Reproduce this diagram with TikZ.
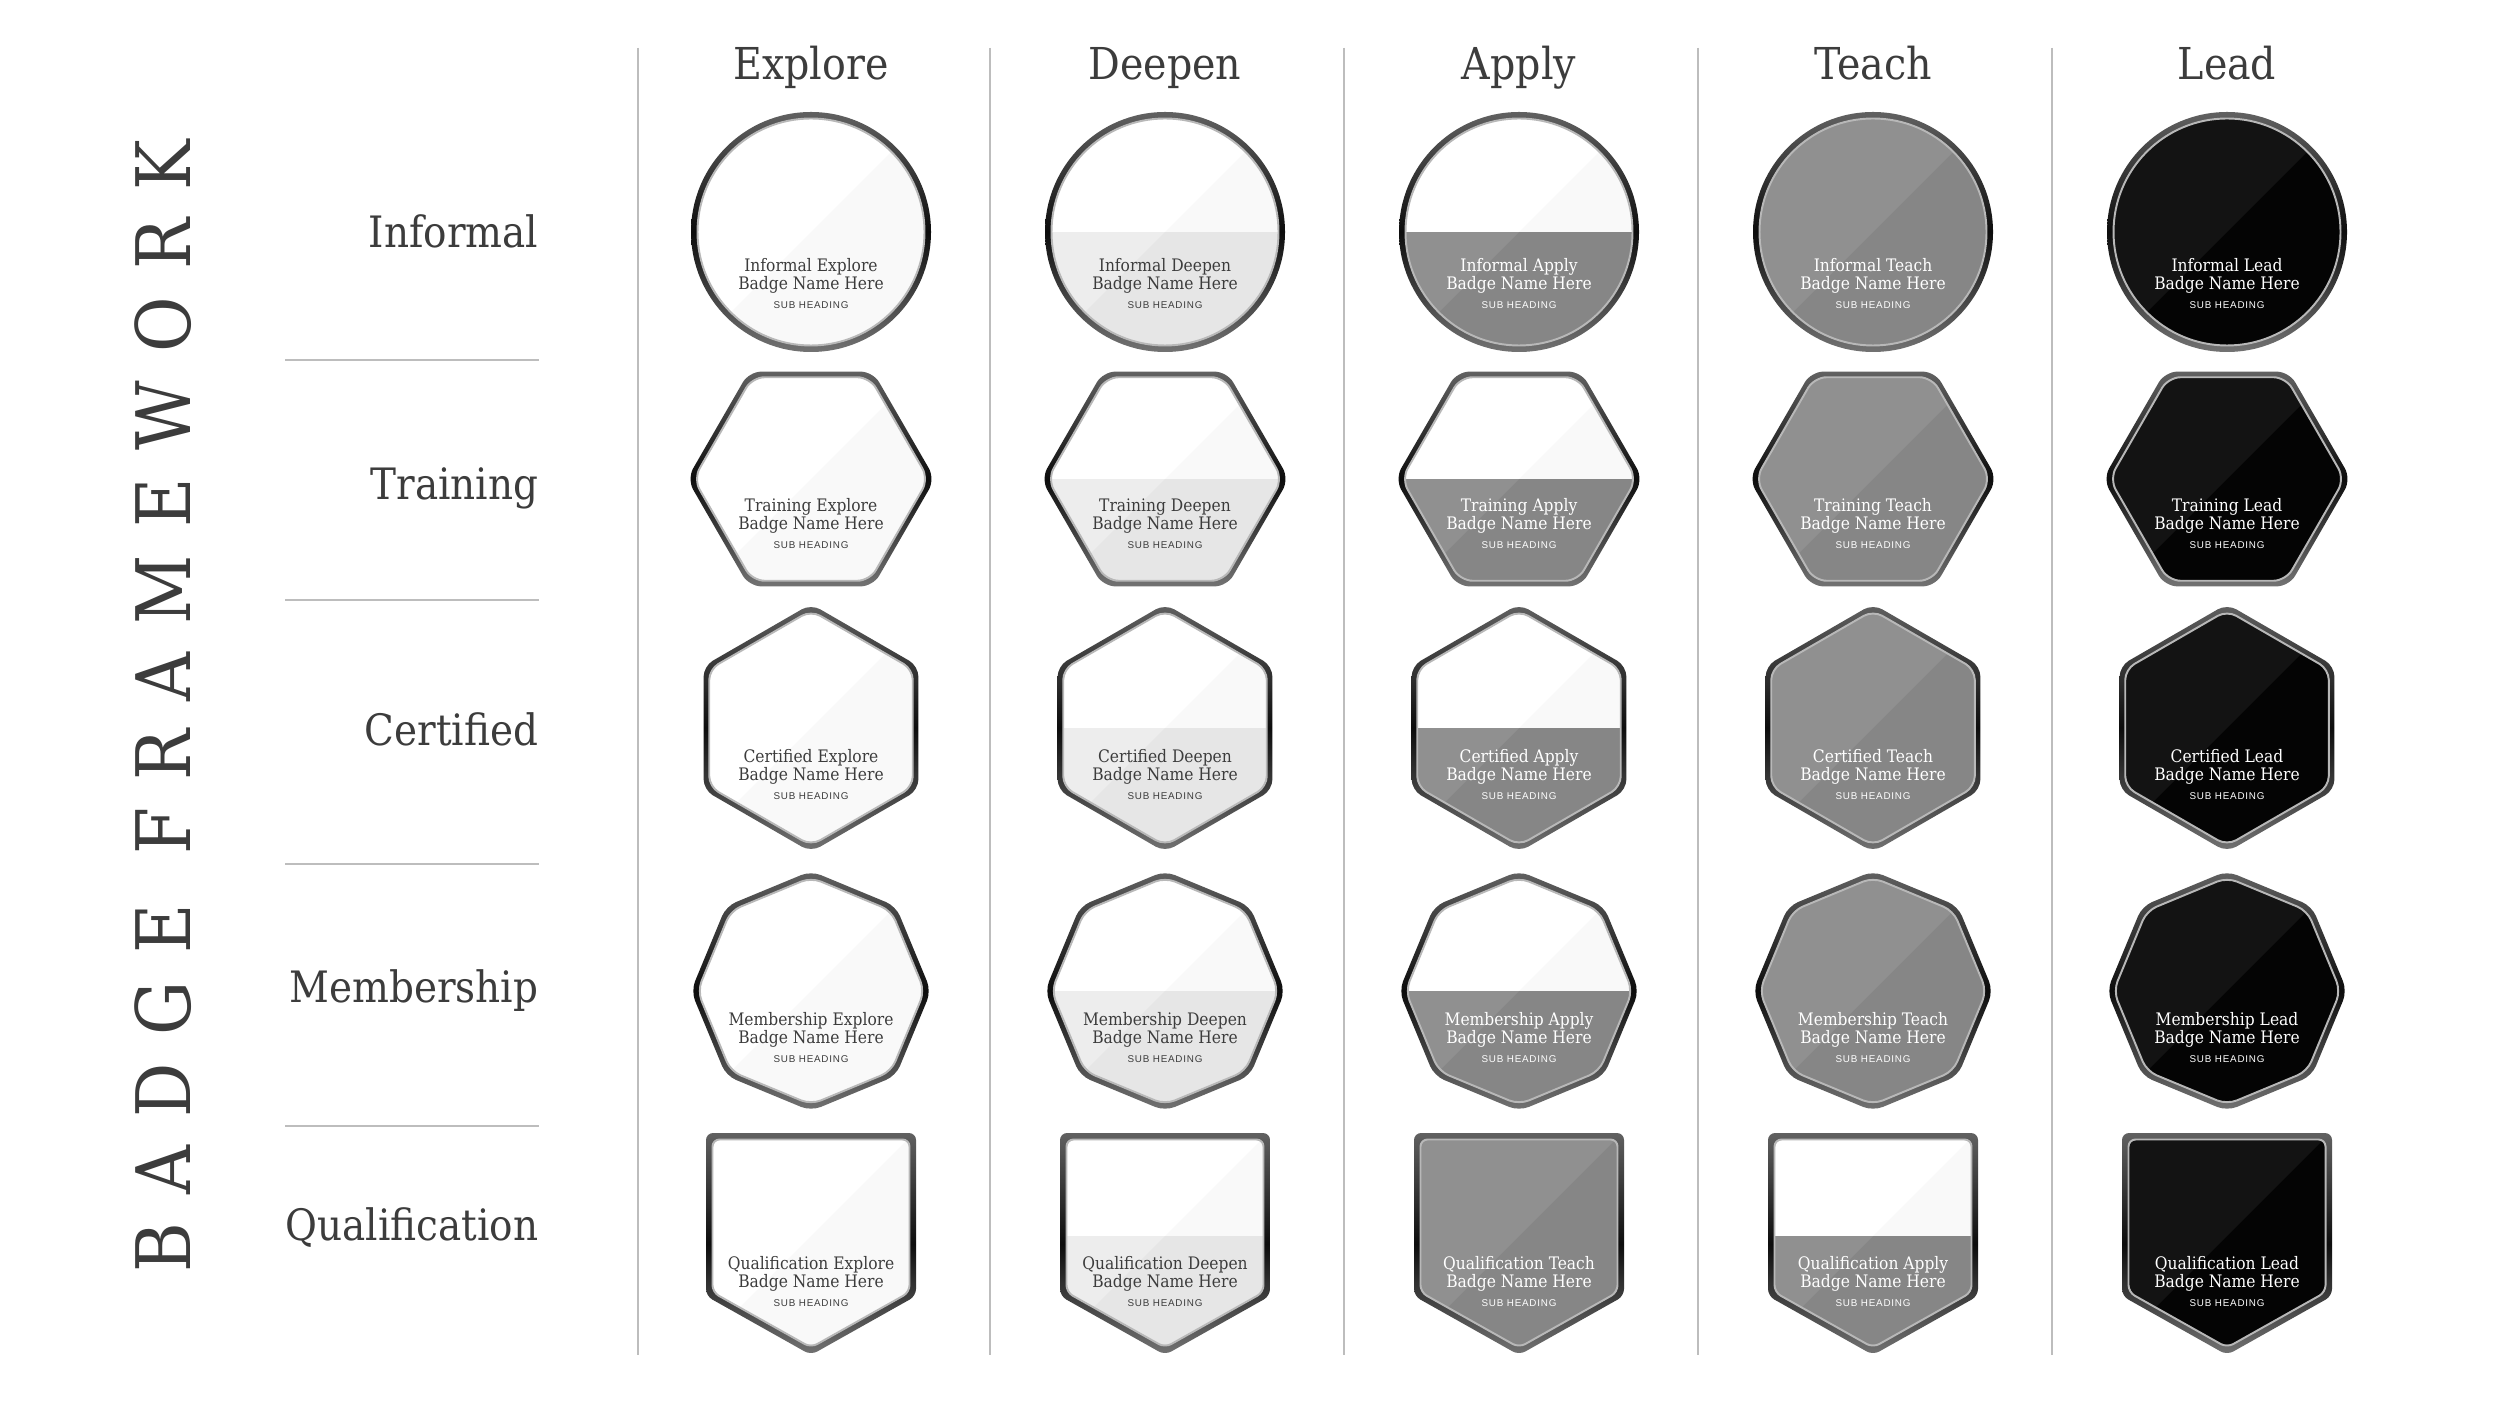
\documentclass[tikz,border=0pt]{standalone}
\usepackage{fontspec}
\setmainfont{DejaVu Serif Condensed}
\newfontfamily\subfont[LetterSpace=8]{Liberation Sans}
\newfontfamily\titlefont[LetterSpace=37]{DejaVu Serif Condensed}
\usepackage{tikz}
\usetikzlibrary{positioning}

\definecolor{inkdark}{HTML}{3C3C3C}
\definecolor{rulegray}{HTML}{BDBDBD}
\definecolor{palefill}{HTML}{ECECEC}
\definecolor{midfill}{HTML}{8A8A8A}
\definecolor{leadfill}{HTML}{050505}

\tikzset{
  roundbadge/.style={insert path={(0,0) circle[radius=120-#1]}},
  hexbadge/.style={insert path={[rounded corners=3.5pt] (0:124-#1) -- (60:124-#1) -- (120:124-#1) -- (180:124-#1) -- (240:124-#1) -- (300:124-#1) -- cycle}},
  pointhexbadge/.style={insert path={[rounded corners=3pt] (30:124-#1) -- (90:124-#1) -- (150:124-#1) -- (210:124-#1) -- (270:124-#1) -- (330:124-#1) -- cycle}},
  octbadge/.style={insert path={[rounded corners=3pt] (0:120-#1) -- (45:120-#1) -- (90:120-#1) -- (135:120-#1) -- (180:120-#1) -- (225:120-#1) -- (270:120-#1) -- (315:120-#1) -- cycle}},
  shieldbadge/.style={insert path={[rounded corners=2pt] (-105+#1,-103+#1) -- (105-#1,-103+#1) -- (105-#1,60-0.58*#1) -- (0,119-1.15*#1) -- (-105+#1,60-0.58*#1) -- cycle}},
  ringshade/.style={top color=black!62, bottom color=black!55, middle color=black!95, even odd rule},
  innerline/.style={draw=white!72!black, line width=0.55pt},
  badgetitle/.style={font=\fontsize{4.9}{5}\selectfont, anchor=base, inner sep=0pt},
  badgesub/.style={font=\subfont\fontsize{2.8}{3}\selectfont, anchor=base, inner sep=0pt},
  rowlabel/.style={font=\fontsize{12.3}{14}\selectfont, text=inkdark, anchor=base east, inner sep=0pt},
  colhead/.style={font=\fontsize{12.5}{14}\selectfont, text=inkdark, anchor=base, inner sep=0pt},
  titletext/.style={font=\titlefont\fontsize{21.4}{24}\selectfont, text=inkdark, rotate=90, anchor=base, inner sep=0pt},
  divider/.style={draw=rulegray, line width=0.55pt}
}

% one badge: x, y, shape, level, text offset, title, name
\newcommand{\badge}[7]{%
  \ifnum#4>1 \def\badgeink{white}\else\def\badgeink{inkdark}\fi
  \begin{scope}[shift={(#1,#2)}]
    \fill[white] (0,0) [#3=6];
    \begin{scope}
      \clip (0,0) [#3=6];
      \ifcase#4
      \or \fill[palefill] (-130,0) rectangle (130,130);
      \or \fill[midfill] (-130,0) rectangle (130,130);
      \or \fill[midfill] (-130,-130) rectangle (130,130);
      \or \fill[leadfill] (-130,-130) rectangle (130,130);
      \fi
      \fill[white, opacity=.06] (-130,130) -- (130,-130) -- (-130,-130) -- cycle;
      \fill[black, opacity=.025] (-130,130) -- (130,-130) -- (130,130) -- cycle;
    \end{scope}
    \path[ringshade] (0,0) [#3=0] (0,0) [#3=6];
    \draw[innerline] (0,0) [#3=6.5];
    \node[badgetitle, text=\badgeink] (#7-title) at (0,#5) {#6};
    \node[badgetitle, text=\badgeink] (#7-name) at (0,#5+18) {Badge Name Here};
    \node[badgesub, text=\badgeink] (#7-sub) at (0,#5+37) {SUB HEADING};
  \end{scope}}

\begin{document}
\begin{tikzpicture}[x=0.01cm, y=-0.01cm]
\fill[white] (0,0) rectangle (2500,1407);
\useasboundingbox (0,0) rectangle (2500,1407);

% title and row labels
\node[titletext] (frametitle) at (190,706) {BADGE FRAMEWORK};
\foreach \y/\rw in {248/Informal, 500/Training, 746/Certified, 1002/Membership, 1240/Qualification}
  \node[rowlabel] (\rw-label) at (539,\y) {\rw};
\foreach \y in {360,600,864,1126}
  \draw[divider] (285,\y) -- (539,\y);

% columns
\foreach \x/\cw in {811/Explore, 1165/Deepen, 1519/Apply, 1873/Teach, 2227/Lead}
  \node[colhead] (\cw-head) at (\x,80) {\cw};
\foreach \x in {638,990,1344,1698,2052}
  \draw[divider] (\x,48) -- (\x,1355);

% badges
\foreach \rowy/\shp/\off/\rw in {232/roundbadge/40/Informal, 479/hexbadge/33/Training, 728/pointhexbadge/35/Certified, 991/octbadge/34/Membership}{
  \foreach \colx/\lvl/\cw in {811/0/Explore, 1165/1/Deepen, 1519/2/Apply, 1873/3/Teach, 2227/4/Lead}{
    \edef\dobadge{\noexpand\badge{\colx}{\rowy}{\shp}{\lvl}{\off}{\rw\space\cw}{\rw\cw}}
    \dobadge
  }
}
\foreach \colx/\lvl/\cw in {811/0/Explore, 1165/1/Deepen, 1519/3/Teach, 1873/2/Apply, 2227/4/Lead}{
  \edef\dobadge{\noexpand\badge{\colx}{1236}{shieldbadge}{\lvl}{33}{Qualification\space\cw}{Qualification\cw}}
  \dobadge
}
\end{tikzpicture}
\end{document}
